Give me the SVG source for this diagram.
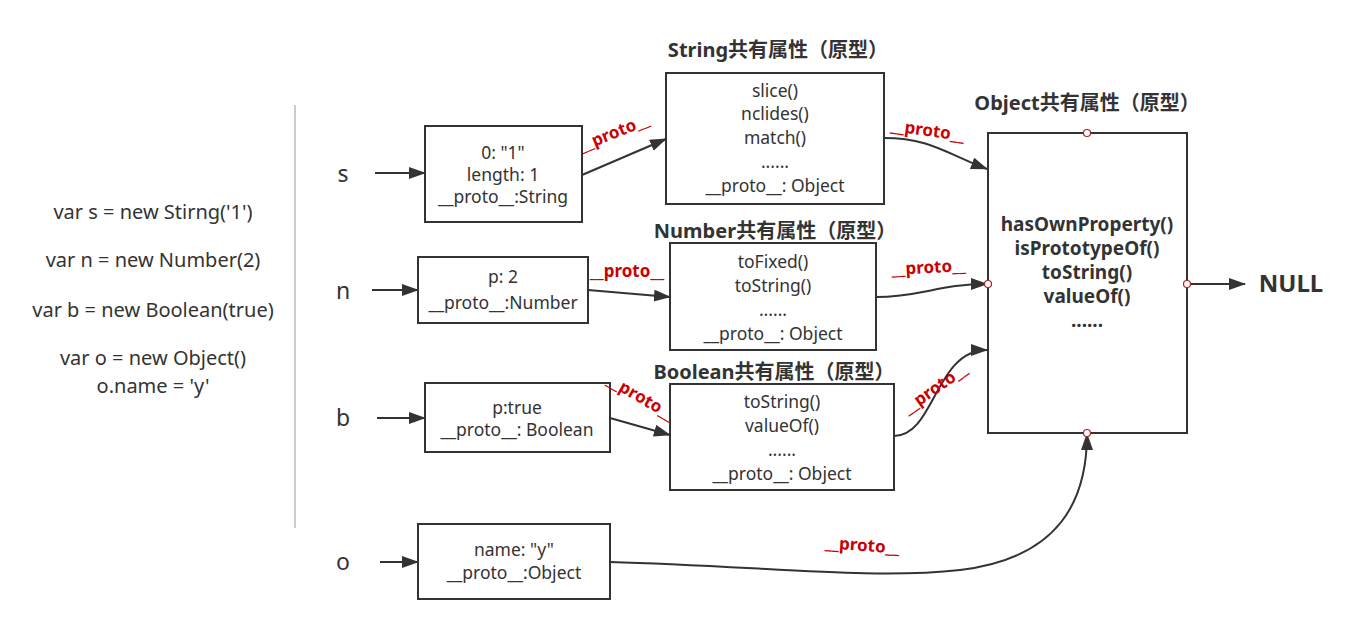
<svg xmlns="http://www.w3.org/2000/svg" width="1352" height="641" viewBox="0 0 1352 641">
<style>
text{font-family:"Noto Sans","Noto Sans CJK SC",sans-serif;fill:#333;text-anchor:middle}
.code{font-size:20px}
.var{font-size:23px}
.t{font-size:17.5px}
.title{font-size:20px;font-weight:bold}
.ob{font-size:19px;font-weight:bold}
.box{fill:#fff;stroke:#333;stroke-width:2}
.c{fill:none;stroke:#333;stroke-width:2}
.p{fill:#cc0000;font-size:17px;font-weight:bold}
.dot{fill:#fff;stroke:#b02020;stroke-width:1.2}
</style>
<defs>
<marker id="ah" markerUnits="userSpaceOnUse" markerWidth="18" markerHeight="14" refX="16" refY="6" orient="auto">
<path d="M0,0 L17,6 L0,12 z" fill="#333"/>
</marker>
</defs>
<rect width="1352" height="641" fill="#fff"/>
<g id="code">
<text class="code" x="153" y="219">var s = new Stirng('1')</text>
<text class="code" x="153" y="267">var n = new Number(2)</text>
<text class="code" x="153" y="317">var b = new Boolean(true)</text>
<text class="code" x="153" y="365">var o = new Object()</text>
<text class="code" x="153" y="393">o.name = 'y'</text>
</g>
<line x1="295" y1="105" x2="295" y2="528" stroke="#bbb" stroke-width="1.5"/>
<g id="labels">
<text class="var" x="343" y="182">s</text>
<text class="var" x="343" y="299">n</text>
<text class="var" x="343" y="426">b</text>
<text class="var" x="343" y="570">o</text>
</g>
<g id="s-obj">
<rect class="box" x="425" y="126" width="157" height="96"/>
<text class="t" x="503" y="159">0: "1"</text>
<text class="t" x="503" y="181">length: 1</text>
<text class="t" x="503" y="203">__proto__:String</text>
</g>
<g id="string-proto">
<text class="title" x="778" y="57">String共有属性（原型）</text>
<rect class="box" x="666" y="73" width="218" height="131"/>
<text class="t" x="775" y="97">slice()</text>
<text class="t" x="775" y="120">nclides()</text>
<text class="t" x="775" y="144">match()</text>
<text class="t" x="775" y="168">......</text>
<text class="t" x="775" y="192">__proto__: Object</text>
</g>
<g id="n-obj">
<rect class="box" x="418" y="257" width="170" height="66"/>
<text class="t" x="503" y="283">p: 2</text>
<text class="t" x="503" y="309">__proto__:Number</text>
</g>
<g id="number-proto">
<text class="title" x="775" y="238">Number共有属性（原型）</text>
<rect class="box" x="670" y="243" width="206" height="107"/>
<text class="t" x="773" y="268">toFixed()</text>
<text class="t" x="773" y="292">toString()</text>
<text class="t" x="773" y="316">......</text>
<text class="t" x="773" y="340">__proto__: Object</text>
</g>
<g id="b-obj">
<rect class="box" x="425" y="383" width="185" height="69"/>
<text class="t" x="517" y="414">p:true</text>
<text class="t" x="517" y="436">__proto__: Boolean</text>
</g>
<g id="boolean-proto">
<text class="title" x="774" y="379">Boolean共有属性（原型）</text>
<rect class="box" x="670" y="384" width="224" height="106"/>
<text class="t" x="782" y="408">toString()</text>
<text class="t" x="782" y="432">valueOf()</text>
<text class="t" x="782" y="456">......</text>
<text class="t" x="782" y="480">__proto__: Object</text>
</g>
<g id="o-obj">
<rect class="box" x="418" y="524" width="192" height="75"/>
<text class="t" x="514" y="556">name: "y"</text>
<text class="t" x="514" y="579">__proto__:Object</text>
</g>
<g id="object-proto">
<text class="title" x="1087" y="110">Object共有属性（原型）</text>
<rect class="box" x="988" y="133" width="199" height="300"/>
<text class="ob" x="1087" y="231">hasOwnProperty()</text>
<text class="ob" x="1087" y="255">isPrototypeOf()</text>
<text class="ob" x="1087" y="279">toString()</text>
<text class="ob" x="1087" y="303">valueOf()</text>
<text class="ob" x="1087" y="327">......</text>
</g>
<g id="null">
<text x="1291" y="292" style="font-size:24px;font-weight:bold">NULL</text>
</g>
<g id="connectors">
<line class="c" x1="375" y1="173" x2="425" y2="173" marker-end="url(#ah)"/>
<line class="c" x1="372" y1="290" x2="418" y2="290" marker-end="url(#ah)"/>
<line class="c" x1="377" y1="418" x2="425" y2="418" marker-end="url(#ah)"/>
<line class="c" x1="380" y1="562" x2="418" y2="562" marker-end="url(#ah)"/>
<line class="c" x1="582" y1="175" x2="666" y2="139" marker-end="url(#ah)"/>
<path class="c" d="M884,138 C930,138 945,153 987,169" marker-end="url(#ah)"/>
<line class="c" x1="588" y1="290" x2="670" y2="297" marker-end="url(#ah)"/>
<path class="c" d="M876,297 C920,297 940,284 987,284" marker-end="url(#ah)"/>
<line class="c" x1="610" y1="418" x2="670" y2="435" marker-end="url(#ah)"/>
<path class="c" d="M894,436 C935,436 935,350 987,350" marker-end="url(#ah)"/>
<path class="c" d="M610,562 C760,566 870,580 960,570 C1060,558 1087,500 1087,434" marker-end="url(#ah)"/>
<line class="c" x1="1187" y1="284" x2="1245" y2="284" marker-end="url(#ah)"/>
<text class="p" transform="translate(616,138) rotate(-22)">__proto__</text>
<text class="p" transform="translate(927,136) rotate(8)">__proto__</text>
<text class="p" transform="translate(627,277)">__proto__</text>
<text class="p" transform="translate(929,273) rotate(-3)">__proto__</text>
<text class="p" transform="translate(638,402) rotate(30)">__proto__</text>
<text class="p" transform="translate(938,393) rotate(-35)">__proto__</text>
<text class="p" transform="translate(862,551) rotate(4)">__proto__</text>
<circle class="dot" cx="1087" cy="133" r="3.5"/>
<circle class="dot" cx="988" cy="284" r="3.5"/>
<circle class="dot" cx="1187" cy="284" r="3.5"/>
<circle class="dot" cx="1087" cy="433" r="3.5"/>
</g>
</svg>
